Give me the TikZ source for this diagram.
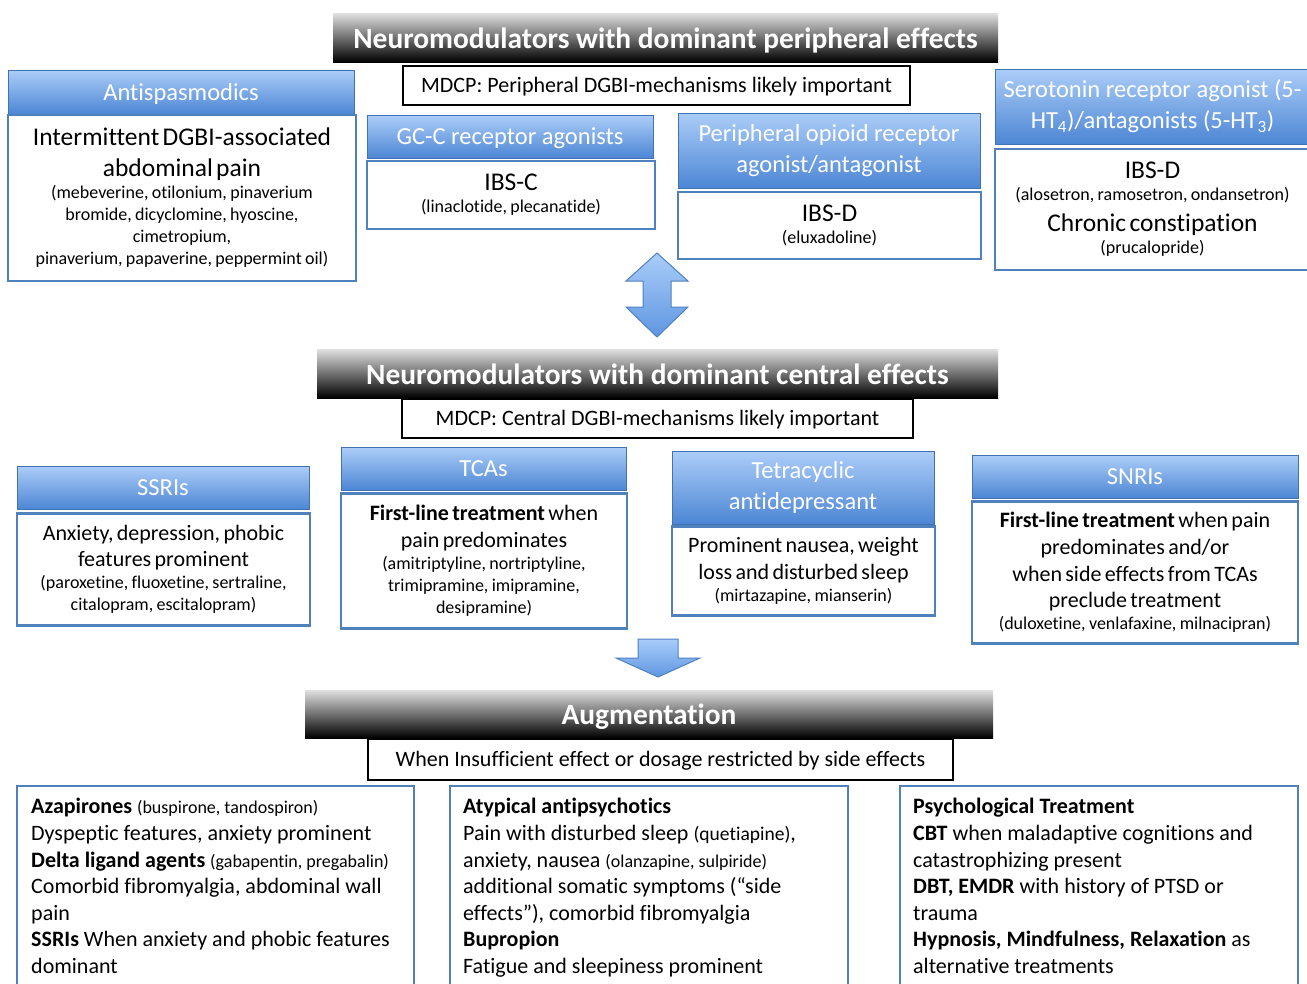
\documentclass[tikz,border=0pt]{standalone}
\usepackage{fontspec}
\setmainfont{Carlito}[Ligatures={NoCommon,NoContextual}]
\definecolor{bdr}{RGB}{79,129,189}
\definecolor{hdrtop}{RGB}{172,205,248}
\definecolor{hdrbot}{RGB}{76,134,212}
\definecolor{arrtop}{RGB}{170,205,250}
\definecolor{arrbot}{RGB}{95,150,225}
\newcommand\ftitle{\fontsize{29.4}{36}\selectfont\bfseries}
\newcommand\fhdr{\fontsize{24.5}{31}\selectfont}
\newcommand\fbig{\fontsize{25.5}{31}\selectfont}
\newcommand\fbody{\fontsize{22}{26.6}\selectfont}
\newcommand\fsm{\fontsize{18}{22}\selectfont}
\newcommand\fmid{\fontsize{19.5}{22}\selectfont}
\tikzset{
  bar/.style={top color=black!12, middle color=black!55, bottom color=black, text=white, font=\ftitle, inner sep=0pt, text height=24pt, text depth=3pt},
  mdcp/.style={draw=black, line width=2.8pt, fill=white, font=\fbody, inner sep=0pt, text height=16pt, text depth=3pt},
  hdr/.style={top color=hdrtop, bottom color=hdrbot, draw=hdrbot!85!black, line width=0.6pt, text=white, font=\fhdr, align=center, inner sep=0pt},
  hdrone/.style={hdr, text height=18pt, text depth=2pt},
  body/.style={draw=bdr, line width=2.6pt, fill=white, align=center, inner sep=0pt},
  btext/.style={anchor=north west, align=flush left, font=\fbody, inner sep=0pt, text width=385pt},
  arrowfill/.style={top color=arrtop, bottom color=arrbot, draw=bdr, line width=1pt}
}
\begin{document}
\begin{tikzpicture}[x=1pt,y=-1pt]
\useasboundingbox (0,0) rectangle (1307,983);
% ---------- peripheral ----------
\node[bar, minimum width=665pt, minimum height=49pt] (t1) at (665.5,37.5) {Neuromodulators with dominant peripheral effects};
\node[mdcp, minimum width=507pt, minimum height=39pt] (m1) at (656.5,85.5) {MDCP: Peripheral DGBI-mechanisms likely important};

\node[hdrone, minimum width=346pt, minimum height=44pt] (antiH) at (181,92) {Antispasmodics};
\node[body, minimum width=348pt, minimum height=166pt, text width=340pt] (antiB) at (182,198)
 {{\fbig Intermittent DGBI-associated\\abdominal pain\par}{\fsm (mebeverine, otilonium, pinaverium\\bromide, dicyclomine, hyoscine,\\cimetropium,\\pinaverium, papaverine, peppermint oil)\par}};

\node[hdrone, minimum width=286pt, minimum height=43pt] (gcH) at (510,136.5) {GC-C receptor agonists};
\node[body, minimum width=288pt, minimum height=68pt, text width=280pt] (gcB) at (511,195)
 {{\fbig IBS-C\par}{\fsm (linaclotide, plecanatide)\par}};

\node[hdr, minimum width=302pt, minimum height=75pt] (opH) at (829,150.5) {Peripheral opioid receptor\\agonist/antagonist};
\node[body, minimum width=303pt, minimum height=67pt, text width=295pt] (opB) at (829.5,225.5)
 {{\fbig IBS-D\par}{\fsm (eluxadoline)\par}};

\node[hdr, minimum width=315pt, minimum height=75pt] (seH) at (1152.5,106.5) {Serotonin receptor agonist (5-\\HT\textsubscript{4})/antagonists (5-HT\textsubscript{3})};
\node[body, minimum width=315pt, minimum height=121pt, text width=305pt] (seB) at (1152.5,209.5)
 {{\fbig IBS-D\par}{\fsm (alosetron, ramosetron, ondansetron)\par}{\fbig Chronic constipation\par}{\fsm (prucalopride)\par}};

% double arrow
\path[arrowfill] (657,253) -- (688,281) -- (671,281) -- (671,307) -- (688,307) -- (657,337) -- (626,307) -- (643,307) -- (643,281) -- (626,281) -- cycle;

% ---------- central ----------
\node[bar, minimum width=681pt, minimum height=49pt] (t2) at (657.5,373.5) {Neuromodulators with dominant central effects};
\node[mdcp, minimum width=511pt, minimum height=39pt] (m2) at (657.5,418.5) {MDCP: Central DGBI-mechanisms likely important};

\node[hdrone, minimum width=292pt, minimum height=43pt] (ssH) at (163,487.5) {SSRIs};
\node[body, minimum width=293pt, minimum height=112pt, text width=285pt] (ssB) at (163.5,569.5)
 {{\fbody Anxiety, depression, phobic\\features prominent\par}{\fsm (paroxetine, fluoxetine, sertraline,\\citalopram, escitalopram)\par}};

\node[hdrone, minimum width=285pt, minimum height=43pt] (tcH) at (483.5,468.5) {TCAs};
\node[body, minimum width=286pt, minimum height=135pt, text width=278pt] (tcB) at (484,561)
 {{\fbody \textbf{First-line treatment} when\\pain predominates\par}{\fsm (amitriptyline, nortriptyline,\\trimipramine, imipramine,\\desipramine)\par}};

\node[hdr, minimum width=262pt, minimum height=73pt] (teH) at (803,487.5) {Tetracyclic\\antidepressant};
\node[body, minimum width=263pt, minimum height=89pt, text width=255pt] (teB) at (803.5,571)
 {{\fbody Prominent nausea, weight\\loss and disturbed sleep\par}{\fsm (mirtazapine, mianserin)\par}};

\node[hdrone, minimum width=326pt, minimum height=43pt] (snH) at (1135,476.5) {SNRIs};
\node[body, minimum width=326pt, minimum height=142pt, text width=318pt] (snB) at (1135,572.5)
 {{\fbody \textbf{First-line treatment} when pain\\predominates and/or\\when side effects from TCAs\\preclude treatment\par}{\fsm (duloxetine, venlafaxine, milnacipran)\par}};

% down arrow
\path[arrowfill] (638,639) -- (678,639) -- (678,658) -- (700,658) -- (658,677) -- (616,658) -- (638,658) -- cycle;

% ---------- augmentation ----------
\node[bar, minimum width=688pt, minimum height=48pt] (t3) at (649,714) {Augmentation};
\node[mdcp, minimum width=585pt, minimum height=41pt] (m3) at (660.5,759.5) {When Insufficient effect or dosage restricted by side effects};

\node[draw=bdr, line width=2.6pt, fill=white, minimum width=397pt, minimum height=240pt, inner sep=0pt] (b1) at (215.5,906) {};
\node[draw=bdr, line width=2.6pt, fill=white, minimum width=398pt, minimum height=240pt, inner sep=0pt] (b2) at (649,906) {};
\node[draw=bdr, line width=2.6pt, fill=white, minimum width=398pt, minimum height=240pt, inner sep=0pt] (b3) at (1099,906) {};

\node[btext] (b1t) at (31,795) {\strut\textbf{Azapirones} {\fsm (buspirone, tandospiron)}\\
Dyspeptic features, anxiety prominent\\
\textbf{Delta ligand agents} {\fsm (gabapentin, pregabalin)}\\
Comorbid fibromyalgia, abdominal wall\\
pain\\
\textbf{SSRIs} When anxiety and phobic features\\
dominant};

\node[btext] (b2t) at (463,795) {\strut\textbf{Atypical antipsychotics}\\
Pain with disturbed sleep {\fmid (quetiapine)},\\
anxiety, nausea {\fsm (olanzapine, sulpiride)}\\
additional somatic symptoms (“side\\
effects”), comorbid fibromyalgia\\
\textbf{Bupropion}\\
Fatigue and sleepiness prominent};

\node[btext] (b3t) at (913,795) {\strut\textbf{Psychological Treatment}\\
\textbf{CBT} when maladaptive cognitions and\\
catastrophizing present\\
\textbf{DBT, EMDR} with history of PTSD or\\
trauma\\
\textbf{Hypnosis, Mindfulness, Relaxation} as\\
alternative treatments};
\end{tikzpicture}
\end{document}
